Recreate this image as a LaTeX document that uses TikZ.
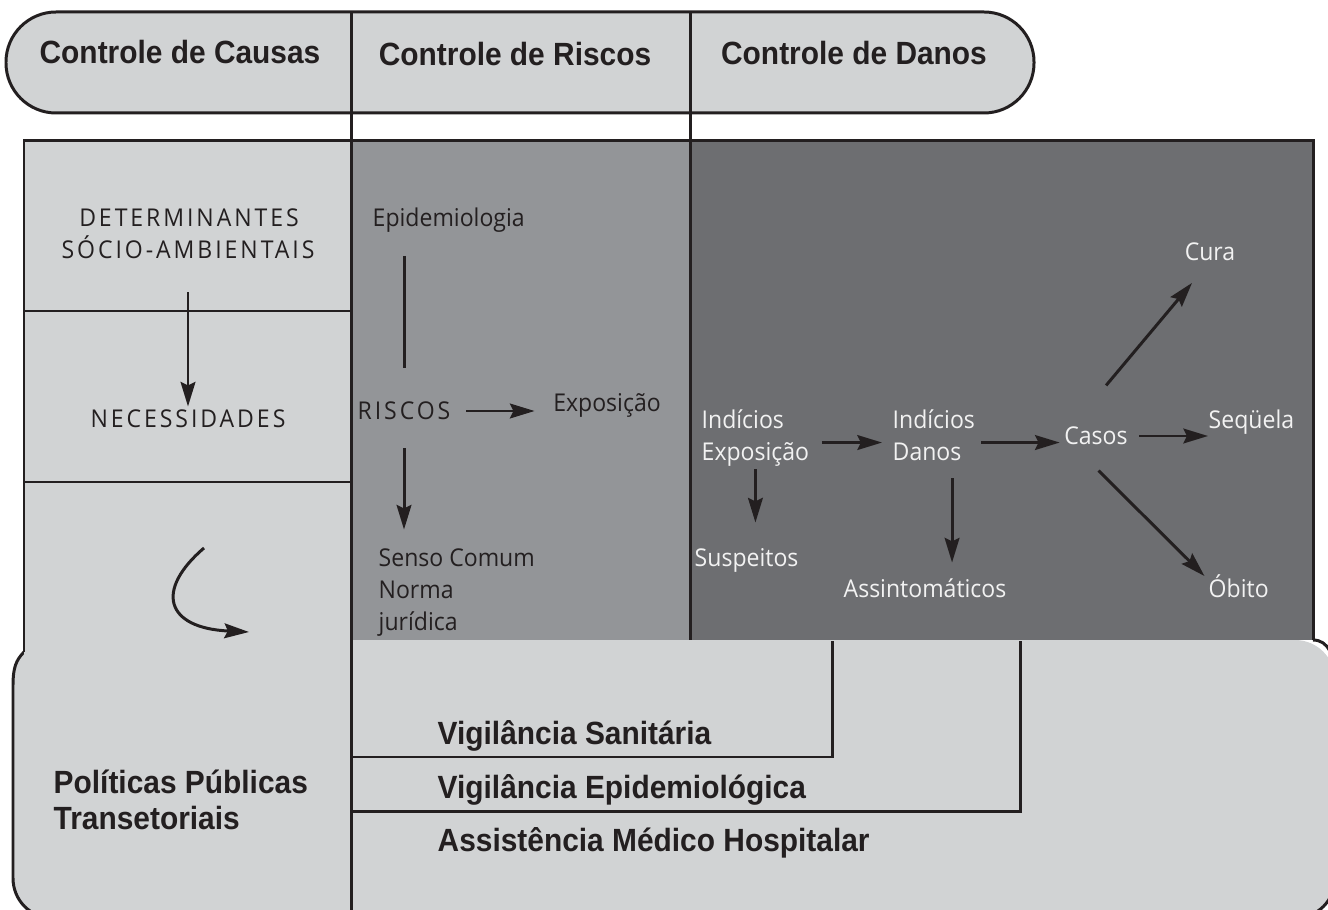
\documentclass[tikz,border=0pt]{standalone}
\usepackage{fontspec}
\setmainfont{Open Sans}[FakeStretch=0.94]
\newfontfamily\capsfont{Open Sans}[FakeStretch=0.94,LetterSpace=12]
\newfontfamily\headfont{Liberation Sans}[FakeStretch=0.93]
\usepackage{tikz}
\usetikzlibrary{arrows.meta}
\usetikzlibrary{calc}
\definecolor{lgrey}{RGB}{209,211,212}
\definecolor{mgrey}{RGB}{147,149,152}
\definecolor{dgrey}{RGB}{109,110,113}
\definecolor{ink}{RGB}{35,31,32}
\definecolor{paper}{RGB}{242,242,242}
\pgfdeclarelayer{bglayer}
\pgfdeclarelayer{nodelayer}
\pgfdeclarelayer{edgelayer}
\pgfsetlayers{bglayer,edgelayer,nodelayer,main}
\tikzset{rule/.style={line width=0.85pt, draw=ink}}
\tikzset{arr/.style={rule, -{Stealth[length=7pt, width=4.2pt, inset=1pt]}}}
\tikzset{tag/.style={inner sep=0pt, text=ink, text height=4.98pt, text depth=0pt, font=\fontsize{6.97}{8}\selectfont}}
\tikzset{caps/.style={tag, font=\fontsize{6.97}{8}\capsfont}}
\tikzset{wtag/.style={tag, text=paper}}
\tikzset{head/.style={inner sep=0pt, text=ink, text height=6.54pt, text depth=0pt, font=\fontsize{9.14}{11}\headfont\bfseries}}

\begin{document}
\begin{tikzpicture}[x=0.01cm, y=-0.01cm]
        \useasboundingbox (0,0) rectangle (1328,910);
        \begin{pgfonlayer}{bglayer}
            \fill [lgrey, rounded corners=4mm] (13,640) rectangle (1335,918);
            \draw [style=rule] (24,652) .. controls (16,660) and (13,668) .. (13,685) -- (13,878) .. controls (13,900) and (30,918) .. (53,918) -- (1295,918) .. controls (1318,918) and (1335,900) .. (1335,878) -- (1335,680) .. controls (1335,655) and (1328,640) .. (1313,640);
            \draw [style=rule, fill=lgrey, rounded corners=5mm] (6,12) rectangle (1034,113);
            \fill [lgrey] (24,141) rectangle (351,656);
            \fill [mgrey] (351,141) rectangle (690,640);
            \fill [dgrey] (690,141) rectangle (1313,640);
            \draw [style=rule] (24,652) -- (24,141) -- (1313,141) -- (1313,640);
            \draw [style=rule] (24,311) -- (351,311);
            \draw [style=rule] (24,482) -- (351,482);
            \draw [style=rule] (351,12) -- (351,910);
            \draw [style=rule] (690,12) -- (690,640);
            \draw [style=rule] (351,757) -- (832,757) -- (832,641);
            \draw [style=rule] (351,811) -- (1020,811) -- (1020,641);
        \end{pgfonlayer}
        \begin{pgfonlayer}{nodelayer}
            \node [style=caps] (0) at (189,218) {DETERMINANTES};
            \node [style=caps] (1) at (188,250) {SÓCIO-AMBIENTAIS};
            \node [style=caps] (2) at (188,419) {NECESSIDADES};
            \node [style=tag, anchor=west] (3) at (372,217.5) {Epidemiologia};
            \node [style=caps] (4) at (404,411) {RISCOS};
            \node [style=tag] (5) at (607,403) {Exposição};
            \node [style=tag, anchor=west] (6) at (378,558) {Senso Comum};
            \node [style=tag, anchor=west] (7) at (378,590) {Norma};
            \node [style=tag, anchor=west] (8) at (378,622) {jurídica};
            \node [style=wtag] (9) at (1210,252) {Cura};
            \node [style=wtag, anchor=west] (10) at (701,420) {Indícios};
            \node [style=wtag, anchor=west] (11) at (701,452) {Exposição};
            \node [style=wtag, anchor=west] (12) at (892,420) {Indícios};
            \node [style=wtag, anchor=west] (13) at (892,452) {Danos};
            \node [style=wtag] (14) at (1096,436) {Casos};
            \node [style=wtag, anchor=west] (15) at (1208,420) {Seqüela};
            \node [style=wtag, anchor=west] (16) at (694,558) {Suspeitos};
            \node [style=wtag] (17) at (925,589) {Assintomáticos};
            \node [style=wtag, anchor=west] (18) at (1208,589) {Óbito};
            \node [style=head] (19) at (180,52.5) {Controle de Causas};
            \node [style=head] (20) at (515,54) {Controle de Riscos};
            \node [style=head] (21) at (854,53) {Controle de Danos};
            \node [style=head, anchor=west] (22) at (437,732.5) {Vigilância Sanitária};
            \node [style=head, anchor=west] (23) at (437,786.5) {Vigilância Epidemiológica};
            \node [style=head, anchor=west] (24) at (437,840) {Assistência Médico Hospitalar};
            \node [style=head, anchor=west] (25) at (53,782) {Políticas Públicas};
            \node [style=head, anchor=west] (26) at (53,818) {Transetoriais};
        \end{pgfonlayer}
        \begin{pgfonlayer}{edgelayer}
            \draw [style=arr, shorten <=3.3mm, shorten >=0.3mm] (1.south) to (2.north);
            \draw [style=rule, shorten <=2.9mm, shorten >=3.4mm] (3.south -| 4.north) to (4.north);
            \draw [style=arr, shorten <=1.5mm, shorten >=1.8mm] (4.east) to (4.east -| 5.west);
            \draw [style=arr, shorten <=2.8mm, shorten >=1.9mm] (4.south) to (4.south |- 6.north);
            \draw [style=arr, shorten <=1.2mm, shorten >=1mm] (11.north east) to (13.north west);
            \draw [style=arr, shorten <=1.9mm, shorten >=0.4mm] (13.north east) to (13.north east -| 14.west);
            \draw [style=arr, shorten <=1.1mm] (14.east) to (14.east -| 15.west);
            \draw [style=arr, shorten <=6.6mm, shorten >=2.8mm] (14.west) to (9.south);
            \draw [style=arr, shorten <=4.9mm, shorten >=0.5mm] (14.west) to (18.north west);
            \draw [style=arr, shorten <=0.8mm, shorten >=2.6mm] (11.south) to (11.south |- 16.north);
            \draw [style=arr, shorten <=1.7mm, shorten >=1.7mm] ([xshift=-1mm]13.south east) to ([xshift=-1mm]13.south east |- 17.north);
            \draw [style=arr] (204,548) .. controls (155,590) and (165,628) .. (249,632);
        \end{pgfonlayer}
    \end{tikzpicture}
\end{document}
